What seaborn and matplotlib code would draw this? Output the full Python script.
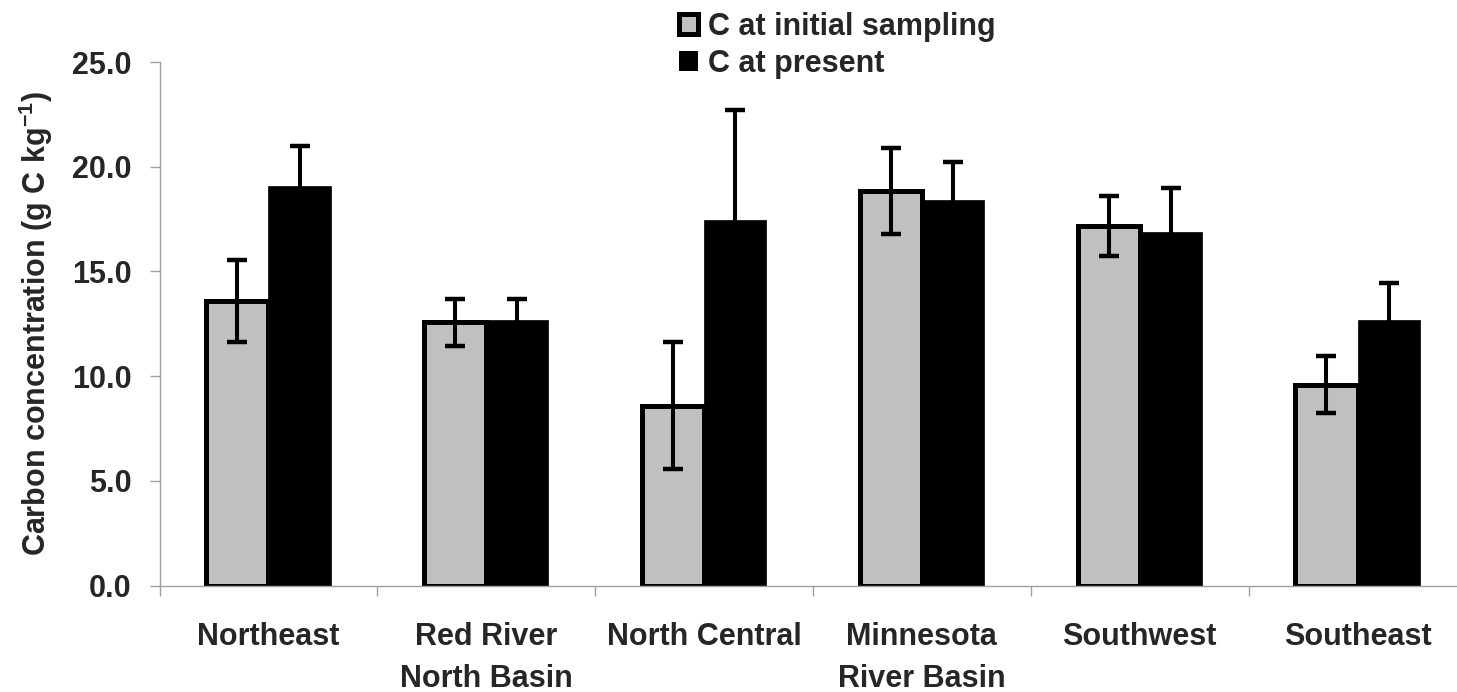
import numpy as np
import pandas as pd
import matplotlib
matplotlib.use("Agg")
import matplotlib.pyplot as plt
from matplotlib.patches import Patch
from matplotlib.ticker import FixedLocator, FormatStrFormatter
import seaborn as sns

# data
regions = ["Northeast", "Red River\nNorth Basin", "North Central",
           "Minnesota\nRiver Basin", "Southwest", "Southeast"]
series = ["C at initial sampling", "C at present"]
c_initial = [13.60, 12.56, 8.59, 18.85, 17.17, 9.59]
c_initial_err = [1.95, 1.11, 3.04, 2.05, 1.43, 1.37]
c_present = [19.09, 12.66, 17.45, 18.41, 16.87, 12.66]
c_present_err = [1.90, 1.01, 5.26, 1.81, 2.13, 1.77]
y_ticks = [0, 5, 10, 15, 20, 25]

GRAY = "#C0C0C0"
AXIS_GRAY = "#a0a0a0"
FS = 22

sns.set_style("ticks")
plt.rcParams["font.family"] = ["Liberation Sans", "DejaVu Sans"]
plt.rcParams["font.weight"] = "bold"
plt.rcParams["mathtext.fontset"] = "custom"
plt.rcParams["mathtext.rm"] = "Liberation Sans:bold"
plt.rcParams["mathtext.bf"] = "Liberation Sans:bold"
plt.rcParams["mathtext.default"] = "bf"

df = pd.DataFrame({
    "region": regions * 2,
    "series": [series[0]] * len(regions) + [series[1]] * len(regions),
    "value": c_initial + c_present,
})

fig = plt.figure(figsize=(14.57, 6.92), dpi=100)
W, H = 1457, 692
left, right, top, bottom = 159.5, 1466.5, 62, 585.5
ax = fig.add_axes([left / W, 1 - bottom / H, (right - left) / W, (bottom - top) / H])

sns.barplot(data=df, x="region", y="value", hue="series", palette=[GRAY, "black"],
            width=0.571, gap=0, edgecolor="black", linewidth=3.6, legend=False,
            errorbar=None, ax=ax, zorder=2)

# black bars have no visible border in the reference
for p in ax.containers[1].patches:
    p.set_linewidth(0.5)

# error bars centred on the bars seaborn placed
for cont, errs in zip(ax.containers, [c_initial_err, c_present_err]):
    xs = [p.get_x() + p.get_width() / 2 for p in cont.patches]
    ys = [p.get_height() for p in cont.patches]
    ax.errorbar(xs, ys, yerr=errs, fmt="none", ecolor="black", elinewidth=2.9,
                capsize=7, capthick=3.2, zorder=4)

ax.set_xlim(-0.5, len(regions) - 0.5)
ax.set_ylim(0, 25)
ax.set_yticks(y_ticks)
ax.yaxis.set_major_formatter(FormatStrFormatter("%.1f"))
ax.xaxis.set_minor_locator(FixedLocator(np.arange(-0.5, len(regions), 1.0)))

ax.tick_params(axis="x", which="major", length=0, pad=26, labelsize=FS)
ax.tick_params(axis="x", which="minor", length=7.2, width=1, color=AXIS_GRAY, direction="out")
ax.tick_params(axis="y", which="major", length=7.2, width=1, color=AXIS_GRAY,
               direction="out", pad=12.8, labelsize=FS)
for lab in ax.get_xticklabels():
    lab.set_fontweight("bold")
    lab.set_linespacing(1.55)
for lab in ax.get_yticklabels():
    lab.set_fontweight("bold")

for s in ["top", "right"]:
    ax.spines[s].set_visible(False)
for s in ["left", "bottom"]:
    ax.spines[s].set_color(AXIS_GRAY)
    ax.spines[s].set_linewidth(1)

ax.set_xlabel("")
ax.set_ylabel("Carbon concentration (g C kg$^{-1}$)", fontsize=FS, fontweight="bold")
ax.yaxis.set_label_coords(-0.080, 0.5)

handles = [Patch(facecolor=GRAY, edgecolor="black", linewidth=3.6),
           Patch(facecolor="black", edgecolor="black", linewidth=0)]
fig.legend(handles, series, loc="upper left", bbox_to_anchor=(679 / W, 1 - 12 / H),
           frameon=False, borderpad=0, borderaxespad=0, handlelength=0.62,
           handleheight=0.62, handletextpad=0.32, labelspacing=0.22,
           prop={"size": FS, "weight": "bold"})

fig.savefig("out.png", dpi=100)
